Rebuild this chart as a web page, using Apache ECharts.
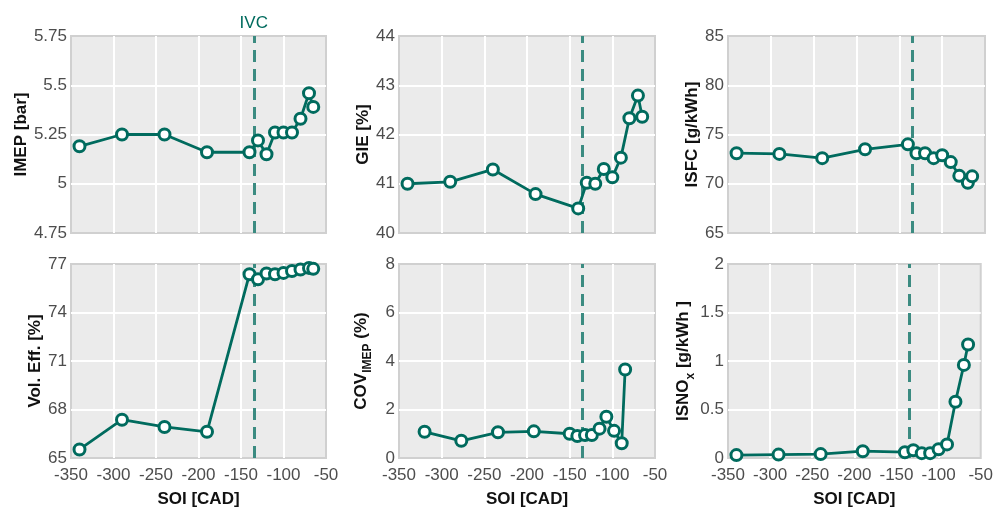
<!DOCTYPE html>
<html>
<head>
<meta charset="utf-8">
<script src="https://cdn.jsdelivr.net/npm/echarts@6/dist/echarts.min.js"></script>
<style>
  html, body { margin: 0; padding: 0; background: #fff; }
  #chartmain { width: 996px; height: 509px; }
</style>
</head>
<body>
<div id="chartmain"></div>
<script>
// start of injection, CAD
var soi = [-340, -290, -240, -190, -140, -130, -120, -110, -100, -90, -80, -70, -65];
var soiCov = [-320, -277, -234, -192, -150, -141, -132, -124, -115, -107, -98, -89, -85];
var ivc = -135;

var imep = [5.19, 5.25, 5.25, 5.16, 5.16, 5.22, 5.15, 5.26, 5.26, 5.26, 5.33, 5.46, 5.39];
var gie = [41.0, 41.04, 41.29, 40.79, 40.5, 41.02, 41.0, 41.3, 41.13, 41.53, 42.33, 42.79, 42.36];
var isfc = [73.1, 73.03, 72.6, 73.5, 74.0, 73.1, 73.1, 72.6, 72.9, 72.2, 70.8, 70.1, 70.75];
var volEff = [65.53, 67.37, 66.92, 66.62, 76.37, 76.06, 76.41, 76.37, 76.45, 76.57, 76.66, 76.76, 76.7];
var cov = [1.08, 0.71, 1.06, 1.10, 1.0, 0.91, 0.95, 0.95, 1.21, 1.70, 1.12, 0.61, 3.65];
var isnox = [0.03, 0.035, 0.04, 0.07, 0.06, 0.08, 0.05, 0.05, 0.09, 0.14, 0.58, 0.96, 1.17];

var teal = "#006b5e";
var font = "Liberation Sans";

function pairs(xs, ys) {
  var out = [];
  for (var i = 0; i < xs.length; i++) out.push([xs[i], ys[i]]);
  return out;
}

// panel layout: left, top, width
var panels = [
  { left: 71, top: 36, width: 255, name: "IMEP [bar]", min: 4.75, max: 5.75, step: 0.25, gap: 38, x: soi, y: imep },
  { left: 399, top: 36, width: 256, name: "GIE [%]", min: 40, max: 44, step: 1, gap: 22, x: soi, y: gie },
  { left: 728, top: 36, width: 257, name: "ISFC [g/kWh]", min: 65, max: 85, step: 5, gap: 21, x: soi, y: isfc },
  { left: 71, top: 264, width: 255, name: "Vol. Eff. [%]", min: 65, max: 77, step: 3, gap: 25, x: soi, y: volEff },
  { left: 399, top: 264, width: 256, name: "{a|COV}{b|IMEP}{a| (%)}", min: 0, max: 8, step: 2, gap: 25, x: soiCov, y: cov },
  { left: 728, top: 264, width: 257, name: "{a|ISNO}{b|x}{a| [g/kWh ]}", min: 0, max: 2, step: 0.5, gap: 30, x: soi, y: isnox }
];

var split = { show: true, showMinLine: false, showMaxLine: false, lineStyle: { color: "#ffffff", width: 2 } };

var grids = [], xAxes = [], yAxes = [], series = [];
panels.forEach(function(p, i) {
  var bottomRow = i >= 3;
  grids.push({
    left: p.left, top: p.top, width: p.width, height: 197,
    show: true, backgroundColor: "#ebebeb", borderColor: "#d0d0d0", borderWidth: 2
  });
  xAxes.push({
    type: "value", gridIndex: i, min: -350, max: -50, interval: 50,
    axisLine: { show: false }, axisTick: { show: false },
    splitLine: split,
    axisLabel: { show: bottomRow, color: "#4d4d4d", fontSize: 17, fontFamily: font, margin: 9 },
    name: bottomRow ? "SOI [CAD]" : "",
    nameLocation: "middle", nameGap: 33,
    nameTextStyle: { color: "#111", fontSize: 17, fontWeight: "bold", fontFamily: font }
  });
  yAxes.push({
    type: "value", gridIndex: i, min: p.min, max: p.max, interval: p.step,
    axisLine: { show: false }, axisTick: { show: false },
    splitLine: split,
    axisLabel: { color: "#4d4d4d", fontSize: 17, fontFamily: font, margin: 4 },
    name: p.name, nameLocation: "middle", nameRotate: 90, nameGap: p.gap,
    nameTextStyle: {
      color: "#111", fontSize: 17, fontWeight: "bold", fontFamily: font,
      rich: {
        a: { fontSize: 17, fontWeight: "bold", fontFamily: font, color: "#111", lineHeight: 26, verticalAlign: "middle" },
        b: { fontSize: 12, fontWeight: "bold", fontFamily: font, color: "#111", lineHeight: 26, verticalAlign: "bottom" }
      }
    }
  });
  series.push({
    type: "line", xAxisIndex: i, yAxisIndex: i,
    data: pairs(p.x, p.y),
    symbol: "circle", symbolSize: 11, showSymbol: true,
    lineStyle: { color: teal, width: 2.8 },
    itemStyle: { color: "#ffffff", borderColor: teal, borderWidth: 3 },
    z: 3,
    markLine: {
      silent: true, symbol: "none", z: 2,
      lineStyle: { type: [12, 7], color: "#3b8b81", width: 3 },
      label: {
        show: i === 0, position: "end", formatter: "IVC",
        color: teal, fontSize: 17, fontFamily: font, distance: 4
      },
      data: [{ xAxis: ivc }]
    }
  });
});

var myChart = echarts.init(document.getElementById("chartmain"));
myChart.setOption({
  animation: false,
  grid: grids,
  xAxis: xAxes,
  yAxis: yAxes,
  series: series
});
</script>
</body>
</html>
